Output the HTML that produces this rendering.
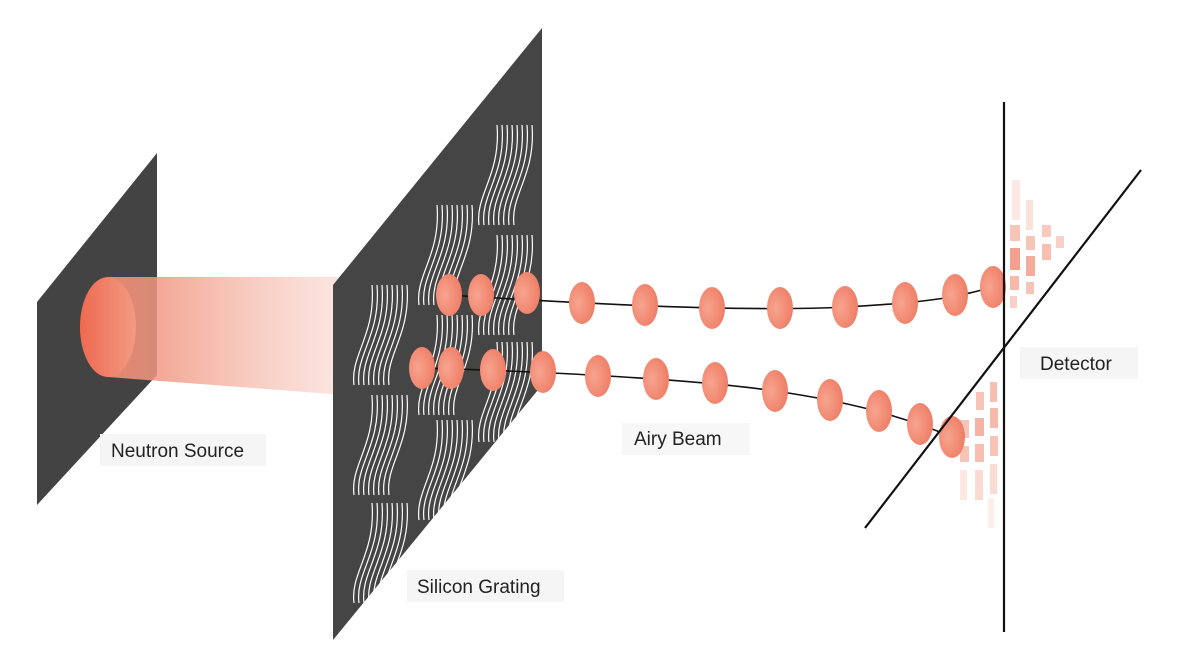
<!DOCTYPE html>
<html><head><meta charset="utf-8"><style>
html,body{margin:0;padding:0;background:#fff;}
svg{display:block;}
text{font-family:"Liberation Sans",sans-serif;font-size:19px;fill:#222;}
</style></head><body>
<svg width="1179" height="670" viewBox="0 0 1179 670" xmlns="http://www.w3.org/2000/svg">
<defs>
<linearGradient id="beam" x1="0" x2="1" y1="0" y2="0">
<stop offset="0" stop-color="#f08a72" stop-opacity="0.95"/>
<stop offset="1" stop-color="#f7c9bd" stop-opacity="0.45"/>
</linearGradient>
<radialGradient id="dot" cx="0.35" cy="0.5" r="0.7">
<stop offset="0" stop-color="#f7a48f"/>
<stop offset="1" stop-color="#ee7a62"/>
</radialGradient>
<linearGradient id="cyl" x1="0" x2="1">
<stop offset="0" stop-color="#ee6a50"/>
<stop offset="1" stop-color="#f39a84"/>
</linearGradient>
<g id="cell" fill="none" stroke="#fff" stroke-width="1.2">
<path d="M-28,50 C-32,20 -6,0 -10,-50"/>
<path d="M-23,50 C-27,20 -1,0 -5,-50"/>
<path d="M-18,50 C-22,20 4,0 0,-50"/>
<path d="M-13,50 C-17,20 9,0 5,-50"/>
<path d="M-8,50 C-12,20 14,0 10,-50"/>
<path d="M-3,50 C-7,20 19,0 15,-50"/>
<path d="M2,50 C-2,20 24,0 20,-50"/>
<path d="M7,50 C3,20 29,0 25,-50"/>
</g>
</defs>

<polygon points="37,302 157,153 157,375 37,505" fill="#434343"/>
<polygon points="108,277 345,277 345,395 108,377" fill="url(#beam)"/>
<ellipse cx="108" cy="327" rx="28" ry="50" fill="url(#cyl)"/>

<polygon points="333,285 542,28 542,385 333,640" fill="#454545"/>
<use href="#cell" x="382" y="335"/><use href="#cell" x="382" y="445"/><use href="#cell" x="382" y="553"/>
<use href="#cell" x="447" y="255"/><use href="#cell" x="447" y="365"/><use href="#cell" x="447" y="470"/>
<use href="#cell" x="507" y="175"/><use href="#cell" x="507" y="285"/><use href="#cell" x="507" y="392"/>

<path d="M449,295 C600,305 750,312 845,307 S960,296 1000,285" fill="none" stroke="#111" stroke-width="1.6"/>
<path d="M422,368 C560,372 700,380 775,391 S900,415 960,440" fill="none" stroke="#111" stroke-width="1.6"/>

<g fill="#f08a72">
<rect x="1012" y="180" width="8" height="40" opacity="0.2"/>
<rect x="1026" y="200" width="7" height="30" opacity="0.25"/>
<rect x="1010" y="225" width="10" height="16" opacity="0.5"/>
<rect x="1026" y="236" width="9" height="14" opacity="0.5"/>
<rect x="1042" y="225" width="9" height="12" opacity="0.45"/>
<rect x="1010" y="248" width="10" height="22" opacity="0.8"/>
<rect x="1026" y="256" width="9" height="20" opacity="0.7"/>
<rect x="1042" y="244" width="9" height="16" opacity="0.55"/>
<rect x="1056" y="236" width="8" height="12" opacity="0.4"/>
<rect x="1010" y="276" width="9" height="14" opacity="0.6"/>
<rect x="1026" y="282" width="8" height="12" opacity="0.5"/>
<rect x="1010" y="296" width="7" height="12" opacity="0.4"/>
<rect x="990" y="382" width="7" height="20" opacity="0.55"/>
<rect x="976" y="392" width="8" height="18" opacity="0.5"/>
<rect x="990" y="408" width="8" height="20" opacity="0.6"/>
<rect x="975" y="418" width="9" height="18" opacity="0.65"/>
<rect x="960" y="420" width="9" height="18" opacity="0.5"/>
<rect x="990" y="436" width="8" height="20" opacity="0.5"/>
<rect x="975" y="444" width="9" height="18" opacity="0.55"/>
<rect x="960" y="446" width="9" height="16" opacity="0.5"/>
<rect x="990" y="464" width="7" height="30" opacity="0.3"/>
<rect x="975" y="470" width="8" height="30" opacity="0.3"/>
<rect x="960" y="470" width="7" height="30" opacity="0.2"/>
<rect x="988" y="498" width="6" height="30" opacity="0.15"/>
</g>

<g fill="url(#dot)">
<ellipse cx="449" cy="295" rx="13" ry="21"/>
<ellipse cx="481" cy="295" rx="13" ry="21"/>
<ellipse cx="527" cy="293" rx="13" ry="21"/>
<ellipse cx="582" cy="303" rx="13" ry="21"/>
<ellipse cx="645" cy="305" rx="13" ry="21"/>
<ellipse cx="712" cy="308" rx="13" ry="21"/>
<ellipse cx="780" cy="308" rx="13" ry="21"/>
<ellipse cx="845" cy="307" rx="13" ry="21"/>
<ellipse cx="905" cy="303" rx="13" ry="21"/>
<ellipse cx="955" cy="295" rx="13" ry="21"/>
<ellipse cx="993" cy="287" rx="13" ry="21"/>
<ellipse cx="422" cy="368" rx="13" ry="21"/>
<ellipse cx="451" cy="368" rx="13" ry="21"/>
<ellipse cx="493" cy="370" rx="13" ry="21"/>
<ellipse cx="543" cy="372" rx="13" ry="21"/>
<ellipse cx="598" cy="376" rx="13" ry="21"/>
<ellipse cx="656" cy="379" rx="13" ry="21"/>
<ellipse cx="715" cy="383" rx="13" ry="21"/>
<ellipse cx="775" cy="391" rx="13" ry="21"/>
<ellipse cx="830" cy="400" rx="13" ry="21"/>
<ellipse cx="879" cy="411" rx="13" ry="21"/>
<ellipse cx="920" cy="424" rx="13" ry="21"/>
<ellipse cx="952" cy="437" rx="13" ry="21"/>
</g>

<line x1="1004" y1="102" x2="1004" y2="632" stroke="#111" stroke-width="2.2"/>
<line x1="865" y1="528" x2="1141" y2="170" stroke="#111" stroke-width="2.2"/>

<rect x="100" y="434" width="166" height="32" fill="#f5f5f5"/>
<text x="111" y="457">Neutron Source</text>
<rect x="407" y="570" width="157" height="32" fill="#f5f5f5"/>
<text x="417" y="593">Silicon Grating</text>
<rect x="622" y="423" width="128" height="32" fill="#f7f7f7"/>
<text x="634" y="445">Airy Beam</text>
<rect x="1020" y="347" width="118" height="32" fill="#f5f5f5"/>
<text x="1040" y="370">Detector</text>
</svg>
</body></html>
